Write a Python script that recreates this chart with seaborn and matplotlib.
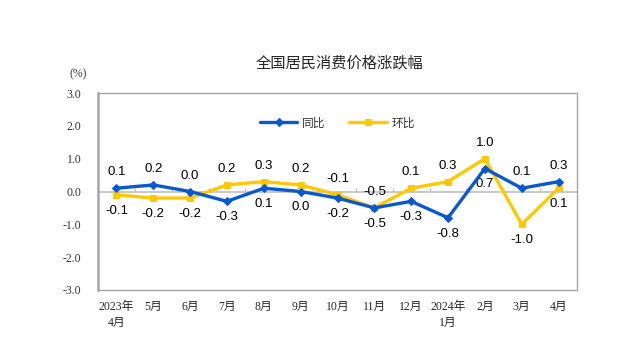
import numpy as np
import pandas as pd
import matplotlib
matplotlib.use("Agg")
import matplotlib.pyplot as plt
import seaborn as sns

# ------------------------------------------------------------
# data
# ------------------------------------------------------------
months = ["2023年\n4月", "5月", "6月", "7月", "8月", "9月", "10月",
          "11月", "12月", "2024年\n1月", "2月", "3月", "4月"]
yoy = [0.1, 0.2, 0.0, -0.3, 0.1, 0.0, -0.2, -0.5, -0.3, -0.8, 0.7, 0.1, 0.3]
mom = [-0.1, -0.2, -0.2, 0.2, 0.3, 0.2, -0.1, -0.5, 0.1, 0.3, 1.0, -1.0, 0.1]
# label placement: 1 = above the point, -1 = below
yoy_side = [1, 1, 1, -1, -1, -1, -1, -1, -1, -1, -1, 1, 1]
mom_side = [-1, -1, -1, 1, 1, 1, 1, 1, 1, 1, 1, -1, -1]
yticks = [-3.0, -2.0, -1.0, 0.0, 1.0, 2.0, 3.0]

sns.set_style("white")
plt.rcParams['font.family'] = ['Liberation Sans', 'Noto Sans CJK SC', 'DejaVu Sans']

blue = "#0A58D0"
yellow = "#FFC800"
gray = "#A6A6A6"

df = pd.DataFrame({"x": np.arange(len(months)), "同比": yoy, "环比": mom})

fig = plt.figure(figsize=(6.4, 3.63), dpi=100)
ax = fig.add_axes([98 / 640, 1 - 290 / 363, 479 / 640, 197 / 363])

sns.lineplot(data=df, x="x", y="同比", ax=ax, color=blue, linewidth=2.4,
             marker="D", markersize=4.5, markeredgecolor=blue, label="同比", zorder=4)
sns.lineplot(data=df, x="x", y="环比", ax=ax, color=yellow, linewidth=2.4,
             marker="s", markersize=4.5, markeredgecolor=yellow, label="环比", zorder=3)

# zero line with category separators
ax.axhline(0, color="#BFBFBF", linewidth=1.2, zorder=1)
ax.vlines(np.arange(len(months) - 1) + 0.5, 0, 0.1, color="#BFBFBF", linewidth=1.0, zorder=1)

# data labels
for i in range(len(months)):
    ax.annotate(f"{yoy[i]:.1f}", (i, yoy[i]), textcoords="offset points",
                xytext=(0, 11.5 * yoy_side[i]), ha="center", va="center",
                fontsize=9.5, color="black", family=['Liberation Sans', 'DejaVu Sans'])
    ax.annotate(f"{mom[i]:.1f}", (i, mom[i]), textcoords="offset points",
                xytext=(0, 11.5 * mom_side[i]), ha="center", va="center",
                fontsize=9.5, color="black", family=['Liberation Sans', 'DejaVu Sans'])

ax.set_xlim(-0.5, len(months) - 0.5)
ax.set_ylim(-3, 3)
ax.set_yticks(yticks)
ax.set_yticklabels([f"{v:.1f}" for v in yticks],
                   family=['Liberation Serif', 'DejaVu Serif'], fontsize=8.5)
ax.set_xticks(df["x"])
ax.set_xticklabels(months, family=['Liberation Serif', 'Noto Sans CJK SC'],
                   fontsize=8.5, linespacing=1.4)
ax.tick_params(axis="x", length=0, pad=8)
ax.tick_params(axis="y", length=2, direction="in", pad=12, colors=gray, labelcolor="#333333")
ax.set_xlabel("")
ax.set_ylabel("")

for side in ["top", "right", "bottom"]:
    ax.spines[side].set_color(gray)
    ax.spines[side].set_linewidth(1.0)
ax.spines["left"].set_color(gray)
ax.spines["left"].set_linewidth(1.8)

leg = ax.legend(loc="center", bbox_to_anchor=(0.5, 0.845), ncol=2, frameon=False,
                fontsize=8.5, handlelength=3.2, columnspacing=2.0, handletextpad=0.4)
for t in leg.get_texts():
    t.set_color("#333333")

fig.text(340 / 640, 1 - 63 / 363, "全国居民消费价格涨跌幅", ha="center", va="center",
         fontsize=11, family=['Noto Sans CJK SC', 'DejaVu Sans'])
fig.text(78 / 640, 1 - 74 / 363, "(%)", ha="center", va="center",
         fontsize=8.5, family=['Liberation Serif', 'DejaVu Serif'], color="#333333")

fig.savefig("out.png", dpi=100)
